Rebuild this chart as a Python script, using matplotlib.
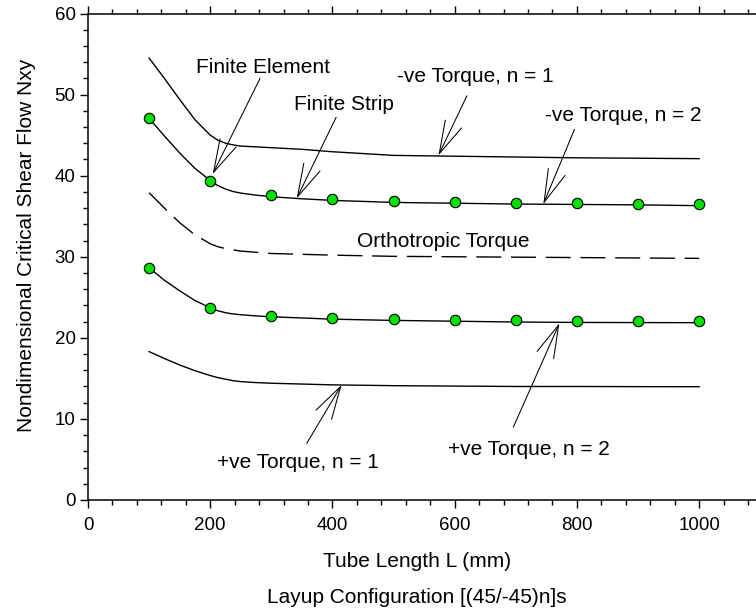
import matplotlib
matplotlib.use("Agg")
import matplotlib.pyplot as plt
from matplotlib.ticker import MultipleLocator

plt.rcParams['font.family'] = ['Liberation Sans', 'DejaVu Sans']

# Tube length (mm) for the curves
x_curve = [100, 125, 150, 175, 200, 212, 225, 237, 250, 275, 300, 350, 400,
           500, 600, 700, 800, 900, 1000]

# -ve Torque, n = 1 (solid)
neg_n1 = [54.5, 52.0, 49.4, 46.9, 45.0, 44.4, 44.0, 43.8, 43.65, 43.55, 43.45, 43.25, 42.95,
          42.5, 42.4, 42.3, 42.2, 42.15, 42.1]
# -ve Torque, n = 2 (finite strip, solid)
neg_n2 = [47.06, 44.9, 42.8, 40.9, 39.4, 38.8, 38.35, 38.05, 37.85, 37.6, 37.4, 37.15, 36.95,
          36.7, 36.6, 36.5, 36.45, 36.4, 36.3]
# Orthotropic torque (dashed)
ortho = [37.9, 36.0, 34.2, 32.7, 31.6, 31.25, 31.0, 30.85, 30.7, 30.55, 30.4, 30.3, 30.2,
         30.05, 30.0, 29.95, 29.9, 29.85, 29.8]
# +ve Torque, n = 2 (finite strip, solid)
pos_n2 = [28.64, 27.1, 25.8, 24.6, 23.7, 23.35, 23.1, 22.95, 22.85, 22.7, 22.6, 22.45, 22.3,
          22.15, 22.05, 21.95, 21.9, 21.88, 21.87]
# +ve Torque, n = 1 (solid)
pos_n1 = [18.3, 17.45, 16.65, 15.95, 15.35, 15.1, 14.9, 14.72, 14.6, 14.48, 14.4, 14.3, 14.2,
          14.1, 14.05, 14.0, 14.0, 13.98, 13.97]

# finite element points
x_fe = [100, 200, 300, 400, 500, 600, 700, 800, 900, 1000]
neg_n2_fe = [47.06, 39.4, 37.65, 37.08, 36.83, 36.7, 36.62, 36.58, 36.54, 36.54]
pos_n2_fe = [28.64, 23.7, 22.73, 22.4, 22.28, 22.19, 22.15, 22.11, 22.11, 22.11]

fig = plt.figure(figsize=(7.56, 6.14), dpi=100)
ax = fig.add_axes([88 / 756, 114 / 614, 668 / 756, 486.5 / 614])

lw = 1.0
ax.plot(x_curve, neg_n1, color='black', lw=lw)
ax.plot(x_curve, neg_n2, color='black', lw=lw)
ax.plot(x_curve, ortho, color='black', lw=lw, dashes=(18, 7))
ax.plot(x_curve, pos_n2, color='black', lw=lw)
ax.plot(x_curve, pos_n1, color='black', lw=lw)

mk = dict(linestyle='none', marker='o', markersize=7.5, markerfacecolor='#00e000',
          markeredgecolor='black', markeredgewidth=0.8, zorder=5)
ax.plot(x_fe, neg_n2_fe, **mk)
ax.plot(x_fe, pos_n2_fe, **mk)

# annotations: label, text pos, arrow start, arrow tip
arrow = dict(arrowstyle='->,head_length=2.36,head_width=0.65', color='black',
             lw=0.75, shrinkA=0, shrinkB=0, mutation_scale=10)
notes = [
    ("Finite Element", (285.6, 52.65), (281.5, 52.0), (204, 40.2)),
    ("Finite Strip", (419, 48.1), (406, 47.2), (341.5, 37.2)),
    ("-ve Torque, n = 1", (633, 51.6), (620, 49.85), (573.4, 42.5)),
    ("-ve Torque, n = 2", (876, 46.8), (796, 45.7), (745, 36.5)),
    ("+ve Torque, n = 1", (343, 3.9), (358, 7.0), (415, 14.2)),
    ("+ve Torque, n = 2", (722, 5.55), (696, 9.0), (771.4, 21.8)),
]
for label, tpos, start, tip in notes:
    ax.text(tpos[0], tpos[1], label, fontsize=15, ha='center', va='baseline')
    ax.annotate('', xy=tip, xytext=start, arrowprops=arrow)

ax.text(582, 31.2, "Orthotropic Torque", fontsize=15, ha='center', va='baseline')

ax.set_xlim(0, 1093)
ax.set_ylim(0, 60)
ax.xaxis.set_major_locator(MultipleLocator(200))
ax.xaxis.set_minor_locator(MultipleLocator(40))
ax.yaxis.set_major_locator(MultipleLocator(10))
ax.yaxis.set_minor_locator(MultipleLocator(2))
ax.spines['right'].set_visible(False)
for s in ['left', 'bottom', 'top']:
    ax.spines[s].set_linewidth(1.1)
ax.tick_params(which='both', direction='out', top=True, labeltop=False, width=1.0)
ax.tick_params(which='major', length=6, labelsize=13.5)
ax.tick_params(which='minor', length=3.5)
ax.tick_params(axis='x', which='major', pad=6)
ax.tick_params(axis='y', which='major', pad=3)

fig.text(417 / 756, 1 - 566.7 / 614, "Tube Length L (mm)", fontsize=15, ha='center', va='baseline')
fig.text(417 / 756, 1 - 603 / 614, "Layup Configuration [(45/-45)n]s", fontsize=15,
         ha='center', va='baseline')
fig.text(27 / 756, 1 - 245 / 614, "Nondimensional Critical Shear Flow Nxy", fontsize=15,
         rotation=90, ha='center', va='center')

fig.savefig('out.png', dpi=100)
